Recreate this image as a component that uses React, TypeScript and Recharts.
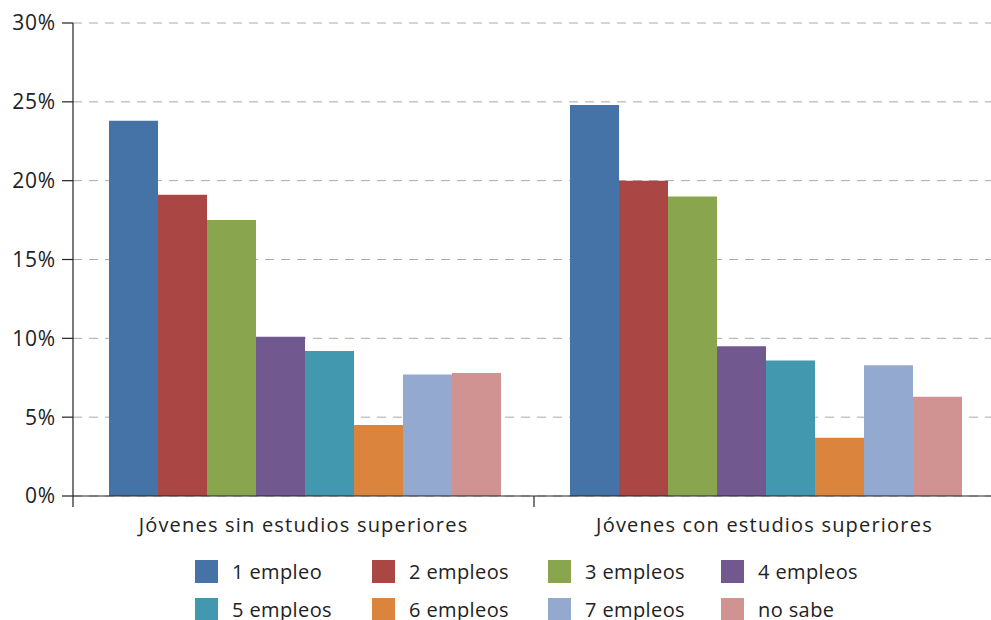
import { BarChart, Bar, XAxis, YAxis, CartesianGrid } from "recharts"

const CATEGORIES = ["Jóvenes sin estudios superiores", "Jóvenes con estudios superiores"]
const SERIES = ["1 empleo", "2 empleos", "3 empleos", "4 empleos", "5 empleos", "6 empleos", "7 empleos", "no sabe"]
const SIN_SUPERIORES = [23.8, 19.1, 17.5, 10.1, 9.2, 4.5, 7.7, 7.8]
const CON_SUPERIORES = [24.8, 20.0, 19.0, 9.5, 8.6, 3.7, 8.3, 6.3]
const Y_TICKS = [0, 5, 10, 15, 20, 25, 30]

const COLORS = ["#4572a7", "#aa4643", "#89a54e", "#71588f", "#4198af", "#db843d", "#93a9cf", "#d19392"]

const FONT = "'Open Sans', sans-serif"
const TICK_MARGIN = 16
const TICK_SIZE = 6

const data = CATEGORIES.map((name, ci) => {
  const row: Record<string, string | number> = { name }
  const vals = ci === 0 ? SIN_SUPERIORES : CON_SUPERIORES
  SERIES.forEach((s, i) => { row[s] = vals[i] })
  return row
})

// category label plus a tick mark on the left edge of its band
function CategoryTick(props: any) {
  const { x, y, payload } = props
  const half = payload?.offset ?? 0
  const axisY = y - TICK_SIZE - TICK_MARGIN
  return (
    <g>
      <line x1={x - half} x2={x - half} y1={axisY} y2={axisY + 11} stroke="#222" strokeWidth={1.2} />
      <text
        x={x}
        y={y}
        dy="0.71em"
        textAnchor="middle"
        fill="#222"
        fontSize={20}
        fontFamily={FONT}
        letterSpacing={1.2}
      >
        {payload.value}
      </text>
    </g>
  )
}

export default function App() {
  return (
    <div style={{ position: "fixed", left: 0, top: 0, width: 991, height: 620, background: "#fff", fontFamily: FONT, overflow: "hidden" }}>
      <BarChart
        width={991}
        height={620}
        data={data}
        margin={{ top: 23, right: -4, left: 0, bottom: 84 }}
        barCategoryGap={36}
        barGap={0}
      >
        <CartesianGrid vertical={false} stroke="#aaaaaa" strokeDasharray="9 7" />
        <XAxis
          dataKey="name"
          axisLine={{ stroke: "#222", strokeWidth: 1.2 }}
          tickLine={false}
          tickSize={TICK_SIZE}
          tick={<CategoryTick />}
          tickMargin={TICK_MARGIN}
          height={40}
        />
        <YAxis
          domain={[0, 30]}
          ticks={Y_TICKS}
          tickFormatter={(v) => `${v}%`}
          axisLine={{ stroke: "#222", strokeWidth: 1.2 }}
          tickLine={{ stroke: "#222", strokeWidth: 1.2 }}
          tickSize={11}
          tickMargin={6}
          tick={{ fill: "#222", fontSize: 21, fontFamily: FONT, letterSpacing: 0.8 }}
          width={73}
        />
        {SERIES.map((s, i) => (
          <Bar key={s} dataKey={s} fill={COLORS[i]} isAnimationActive={false} />
        ))}
      </BarChart>

      <div style={{ position: "absolute", left: 195, top: 560, display: "grid", gridTemplateColumns: "177px 176px 173px 176px", rowGap: 15 }}>
        {SERIES.map((s, i) => (
          <div key={s} style={{ display: "flex", alignItems: "center", height: 23 }}>
            <span style={{ width: 23, height: 23, background: COLORS[i], marginRight: 14, flexShrink: 0 }} />
            <span style={{ fontSize: 20, color: "#222", whiteSpace: "nowrap", letterSpacing: 0.4 }}>{s}</span>
          </div>
        ))}
      </div>
    </div>
  )
}
